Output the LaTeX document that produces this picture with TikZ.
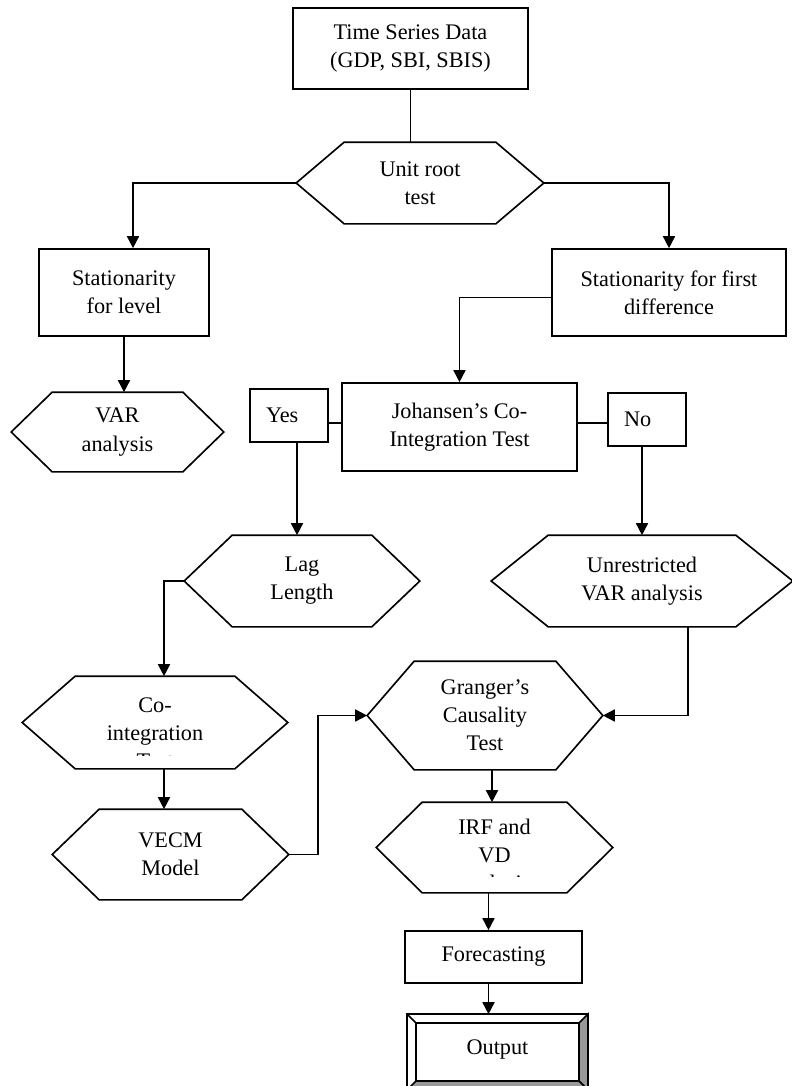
\documentclass[tikz,border=0pt]{standalone}
\usepackage{fontspec}
\setmainfont{Liberation Serif}
\usetikzlibrary{arrows.meta}
\usetikzlibrary{calc}

\begin{document}
\begin{tikzpicture}[x=0.03cm,y=-0.03cm,line width=1.4pt,
    font=\fontsize{19}{24}\selectfont,
    box/.style={draw, inner sep=0pt, align=center},
    hexa/.style={inner sep=0pt, align=center},
    yesno/.style={draw, inner xsep=0.48cm, inner ysep=0pt, text width=1.38cm, minimum height=1.59cm, align=left},
    arr/.style={-{Triangle[length=0.36cm,width=0.36cm]}}]
    \useasboundingbox (0,0) rectangle (792,1086);

    % 绘制方框
    \node[box, minimum width=7.05cm, minimum height=2.43cm] (data) at (410.5,48.5) {Time Series Data\\(GDP, SBI, SBIS)};
    \node[box, minimum width=5.1cm, minimum height=2.61cm] (lev) at (124,292.5) {Stationarity\\for level};
    \node[box, minimum width=7.02cm, minimum height=2.61cm] (diff) at (669,292.5) {Stationarity for first\\difference};
    \node[box, minimum width=7.05cm, minimum height=2.64cm] (joh) at (459.5,427) {Johansen’s Co-\\Integration Test};
    \node[yesno] (yes) at (289,415.5) {Yes};
    \node[yesno] (no) at (647,419.5) {No};
    \node[box, minimum width=5.31cm, minimum height=1.56cm] (fore) at (493.5,957) {Forecasting};
    \node[hexa, minimum width=5.37cm, minimum height=2.22cm] (out) at (497.5,1052) {};

    % 绘制六边形
    \node[hexa, minimum width=7.38cm, minimum height=2.4cm] (root) at (420,183) {Unit root\\test};
    \node[hexa, minimum width=6.33cm, minimum height=2.34cm] (varL) at (117.5,432) {VAR\\analysis};
    \node[hexa, minimum width=7.02cm, minimum height=2.7cm] (lag) at (302,581) {Lag\\Length};
    \node[hexa, minimum width=9cm, minimum height=2.7cm] (unr) at (642,581) {Unrestricted\\VAR analysis};
    \node[hexa, minimum width=7.92cm, minimum height=2.73cm] (coint) at (155,722.5) {};
    \node[hexa, minimum width=7.05cm, minimum height=2.67cm] (vecm) at (170.5,854.5) {VECM\\Model};
    \node[hexa, minimum width=7.02cm, minimum height=3.21cm] (gra) at (485,715.5) {Granger’s\\Causality\\Test};
    \node[hexa, minimum width=7.05cm, minimum height=2.67cm] (irf) at (494.5,847.5) {};

    \foreach \n/\d in {root/48,varL/41,lag/48,unr/57,coint/53,vecm/47,gra/47,irf/46}
        \draw (\n.west) -- ($(\n.north west)+(\d,0)$) -- ($(\n.north east)-(\d,0)$) -- (\n.east)
            -- ($(\n.south east)-(\d,0)$) -- ($(\n.south west)+(\d,0)$) -- cycle;

    \begin{scope}
        \clip (coint.north west) rectangle ($(coint.south east)+(0,-13)$);
        \node[hexa] (cointtxt) at ($(coint.center)+(0,11)$) {Co-\\integration\\Test};
    \end{scope}
    \begin{scope}
        \clip (irf.north west) rectangle ($(irf.south east)+(0,-16)$);
        \node[hexa] (irftxt) at ($(irf.center)+(0,10)$) {IRF and\\VD\\analysis};
    \end{scope}

    % Output 框
    \filldraw[fill=black!40] (out.north east) -- (out.south east) -- ($(out.south east)+(-9,-9)$) -- ($(out.north east)+(-9,9)$) -- cycle;
    \filldraw[fill=black!40] (out.south west) -- (out.south east) -- ($(out.south east)+(-9,-9)$) -- ($(out.south west)+(9,-9)$) -- cycle;
    \draw (out.north west) rectangle (out.south east);
    \draw ($(out.north west)+(9,9)$) rectangle ($(out.south east)+(-9,-9)$);
    \draw (out.north west) -- ($(out.north west)+(9,9)$);
    \node (outtxt) at ($(out.center)+(0,-3)$) {Output};

    % 绘制连线
    \draw (data.south) -- (data.south |- root.north);
    \draw[arr] (root.west) -| ($(lev.north)+(9,0)$);
    \draw[arr] (root.east) -| (diff.north);
    \draw[arr] (lev.south) -- (lev.south |- varL.north);
    \draw[arr] ($(diff.west)+(0,5)$) -| (joh.north);
    \draw ($(joh.west)+(0,-4)$) coordinate (j1) -- (j1 -| yes.east);
    \draw ($(joh.east)+(0,-4)$) coordinate (j2) -- (j2 -| no.west);
    \draw[arr] ($(yes.south)+(8,0)$) coordinate (y1) -- (y1 |- lag.north);
    \draw[arr] (unr.north |- no.south) -- (unr.north);
    \draw[arr] (lag.west) -| ($(coint.north)+(9,0)$);
    \draw[arr] ($(coint.south)+(9,0)$) coordinate (c1) -- (c1 |- vecm.north);
    \draw[arr] (vecm.east) -- ++(29,0) |- (gra.west);
    \draw[arr] ($(unr.south)+(46,0)$) |- (gra.east);
    \draw[arr] ($(gra.south)+(7,0)$) coordinate (g1) -- (g1 |- irf.north);
    \draw[arr] ($(irf.south)+(-6,0)$) coordinate (i1) -- (i1 |- fore.north);
    \draw[arr] ($(fore.south)+(-5,0)$) coordinate (f1) -- (f1 |- out.north);

\end{tikzpicture}
\end{document}
